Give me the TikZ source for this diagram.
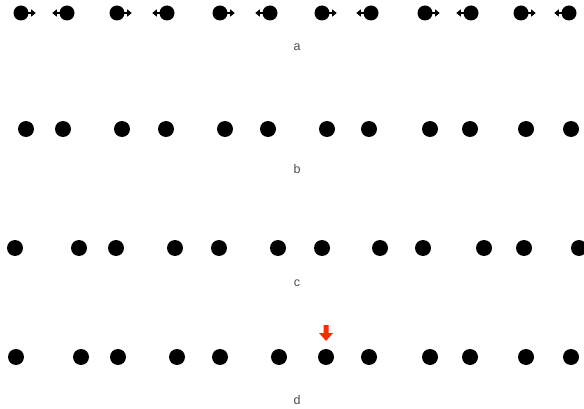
\documentclass[tikz,border=0pt]{standalone}
\usepackage{fontspec}
\setmainfont{Liberation Sans}
\usetikzlibrary{arrows.meta}
\definecolor{marker}{RGB}{255,42,0}

\begin{document}
\begin{tikzpicture}[x=1pt,y=-1pt,>={Triangle[length=4.5pt,width=7pt]},
dot/.style={circle,fill=black,inner sep=0pt,minimum size=16pt},
smalldot/.style={circle,fill=black,inner sep=0pt,minimum size=15pt},
push/.style={->,line width=1.8pt},
lbl/.style={font=\fontsize{12.5}{14}\selectfont,text=black!70}]
\useasboundingbox (0,0) rectangle (584,409);
\clip (0,0) rectangle (584,409);
% a: pairs pushed apart
\foreach \x [count=\i] in {21,67,117,167,220,270,322,371,425,471,521,569}
  \node[smalldot] (a\i) at (\x,13) {};
\foreach \i in {1,3,5,7,9,11}{
  \coordinate (ta\i) at ([xshift=7pt]a\i.east);
  \draw[push] ([xshift=-1pt]a\i.east) -- (ta\i);}
\foreach \i in {2,4,6,8,10,12}{
  \coordinate (ta\i) at ([xshift=-7pt]a\i.west);
  \draw[push] ([xshift=1pt]a\i.west) -- (ta\i);}
\node[lbl] (la) at (297,47) {a};
% b
\foreach \x [count=\i] in {26,63,122,166,225,268,327,369,430,470,526,571}
  \node[dot] (b\i) at (\x,129) {};
\node[lbl] (lb) at (297,169) {b};
% c
\foreach \x [count=\i] in {15,79,116,175,219,278,322,380,423,484,524,579}
  \node[dot] (c\i) at (\x,248) {};
\node[lbl] (lc) at (297,283) {c};
% d
\foreach \x [count=\i] in {16,81,118,177,220,279,326,369,430,470,526,571}
  \node[dot] (d\i) at (\x,357) {};
\fill[marker] (323.5,325) -- (328.5,325) -- (328.5,333) -- (333,333)
  -- (326,341) -- (319,333) -- (323.5,333) -- cycle;
\node[lbl] (ld) at (297,400) {d};
\end{tikzpicture}
\end{document}
